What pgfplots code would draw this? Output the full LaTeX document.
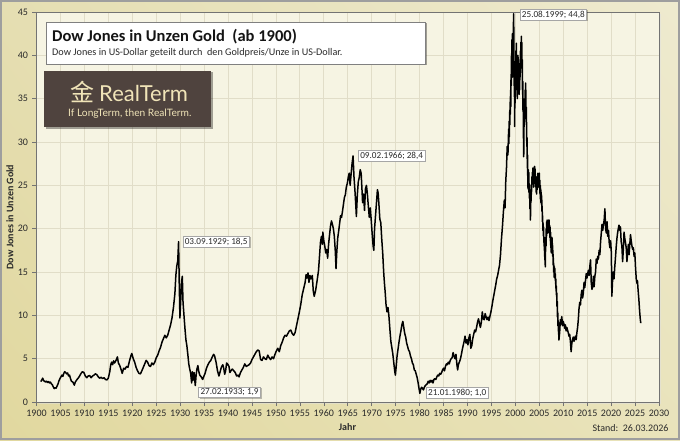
\documentclass[border=0pt]{standalone}
\usepackage{pgfplots}
\pgfplotsset{compat=1.18}
\usepackage{fontspec}
\setmainfont{Carlito}
\newfontfamily\cjk{Noto Sans CJK SC}
\newfontfamily\latofont{Lato}
\usetikzlibrary{shadows,shadings}
\definecolor{plotbg}{HTML}{F6F4E3}
\definecolor{gridc}{HTML}{E1DDC8}
\definecolor{logobg}{HTML}{4F433E}
\definecolor{logogold}{HTML}{F0E4B8}
\definecolor{ulc}{HTML}{E5DEB2}
\definecolor{urc}{HTML}{EEEACF}
\definecolor{llc}{HTML}{E1D89F}
\definecolor{lrc}{HTML}{E9E3BB}
\definecolor{txt}{HTML}{2A2A2A}
\pgfplotstableread{
x y
1900.9 2.35
1901.1 2.55
1901.3 2.75
1901.5 2.45
1901.7 2.4
1901.9 2.3
1902.1 2.4
1902.3 2.25
1902.5 2.35
1902.7 2.2
1902.9 2.3
1903.1 2.1
1903.3 2.0
1903.5 1.75
1903.7 1.55
1903.9 1.65
1904.1 1.6
1904.3 1.85
1904.5 2.1
1904.7 2.45
1904.9 2.7
1905.1 2.9
1905.3 3.1
1905.5 2.95
1905.7 3.3
1905.9 3.5
1906.1 3.4
1906.3 3.25
1906.5 3.35
1906.7 3.0
1906.9 3.1
1907.1 2.7
1907.3 2.4
1907.6 2.3
1907.9 1.95
1908.1 2.3
1908.4 2.55
1908.7 2.75
1909.0 3.0
1909.3 3.3
1909.6 3.5
1909.9 3.4
1910.2 3.0
1910.5 2.8
1910.8 3.0
1911.1 3.05
1911.4 2.8
1911.7 3.0
1912.0 3.1
1912.3 3.25
1912.6 3.15
1912.9 2.9
1913.2 2.75
1913.5 2.85
1913.8 2.7
1914.1 2.8
1914.4 2.6
1914.7 2.55
1915.0 2.75
1915.3 3.5
1915.5 4.3
1915.7 4.6
1915.9 4.3
1916.1 4.75
1916.3 4.5
1916.6 4.8
1916.9 5.2
1917.1 4.5
1917.4 4.2
1917.7 3.7
1917.9 3.3
1918.2 3.9
1918.5 3.8
1918.8 4.1
1919.1 4.0
1919.4 4.7
1919.7 5.3
1919.9 5.6
1920.2 5.0
1920.5 4.6
1920.8 4.0
1921.1 3.6
1921.4 3.3
1921.7 3.25
1922.0 3.6
1922.3 4.0
1922.6 4.4
1922.9 4.8
1923.2 4.6
1923.5 4.2
1923.8 4.1
1924.1 4.5
1924.4 4.3
1924.7 4.6
1925.0 5.1
1925.3 5.4
1925.6 5.9
1925.9 6.3
1926.2 6.9
1926.5 7.3
1926.8 7.7
1927.1 7.4
1927.4 7.7
1927.7 8.3
1928.0 8.9
1928.3 9.7
1928.6 10.9
1928.9 12.5
1929.1 14.6
1929.3 15.7
1929.5 16.3
1929.67 18.5
1929.8 14.0
1929.95 9.7
1930.1 11.5
1930.3 13.9
1930.45 14.5
1930.6 11.5
1930.8 10.0
1931.0 8.5
1931.2 7.2
1931.4 6.5
1931.6 5.5
1931.8 4.4
1932.0 3.8
1932.2 3.3
1932.4 2.2
1932.55 3.5
1932.7 2.5
1932.9 3.4
1933.16 1.9
1933.35 3.2
1933.5 3.8
1933.7 4.2
1933.9 3.5
1934.1 3.1
1934.4 2.9
1934.7 2.6
1934.9 2.9
1935.2 3.3
1935.5 3.9
1935.8 4.3
1936.1 4.6
1936.4 4.8
1936.7 5.2
1937.0 5.5
1937.2 5.3
1937.5 4.6
1937.8 3.6
1938.1 3.0
1938.3 3.4
1938.6 4.0
1938.9 4.3
1939.1 3.9
1939.3 3.2
1939.5 3.6
1939.7 4.5
1939.9 4.4
1940.2 4.1
1940.4 3.4
1940.6 3.6
1940.9 3.8
1941.2 3.6
1941.5 3.4
1941.8 3.0
1942.1 3.1
1942.3 2.9
1942.6 3.4
1942.9 3.7
1943.2 4.0
1943.5 4.4
1943.8 4.1
1944.1 4.2
1944.4 4.3
1944.7 4.5
1945.0 4.9
1945.3 5.2
1945.6 5.5
1945.9 5.8
1946.2 6.0
1946.5 5.9
1946.8 4.9
1947.1 4.8
1947.4 5.2
1947.7 5.0
1948.0 4.9
1948.3 5.4
1948.6 5.1
1948.9 4.9
1949.2 5.2
1949.5 5.0
1949.8 5.5
1950.1 5.9
1950.4 6.2
1950.7 5.8
1951.0 6.5
1951.3 6.9
1951.6 7.4
1951.9 7.7
1952.2 7.6
1952.5 7.9
1952.8 8.2
1953.1 8.3
1953.4 7.9
1953.7 7.7
1954.0 8.0
1954.3 8.8
1954.6 9.6
1954.9 10.4
1955.2 11.3
1955.5 12.4
1955.8 13.1
1956.1 13.8
1956.3 14.7
1956.5 14.3
1956.7 14.9
1956.9 13.8
1957.1 14.6
1957.3 14.2
1957.6 14.6
1957.8 12.8
1958.0 12.2
1958.3 12.9
1958.6 14.0
1958.9 15.2
1959.1 16.8
1959.3 18.4
1959.5 19.1
1959.7 18.2
1959.8 19.6
1960.0 18.6
1960.2 18.0
1960.4 17.2
1960.6 17.6
1960.8 16.6
1961.0 18.2
1961.2 19.3
1961.4 20.3
1961.6 20.9
1961.8 20.5
1962.0 20.0
1962.2 19.1
1962.4 17.4
1962.55 15.4
1962.7 17.2
1962.9 18.9
1963.1 19.7
1963.3 20.6
1963.5 21.5
1963.7 21.3
1963.9 22.0
1964.1 22.8
1964.3 23.6
1964.5 23.9
1964.7 24.8
1964.9 25.2
1965.1 25.9
1965.3 26.4
1965.5 25.0
1965.7 26.3
1965.9 27.5
1966.11 28.4
1966.3 26.0
1966.5 24.4
1966.7 22.5
1966.8 21.4
1967.0 23.9
1967.2 25.4
1967.4 25.9
1967.6 26.8
1967.8 26.4
1968.0 24.2
1968.1 23.0
1968.3 24.0
1968.5 22.1
1968.7 24.6
1968.9 25.0
1969.1 24.0
1969.3 22.6
1969.5 21.3
1969.7 22.4
1969.9 21.0
1970.1 19.4
1970.3 18.0
1970.45 17.5
1970.6 20.0
1970.8 21.5
1971.0 23.0
1971.2 24.5
1971.35 24.1
1971.5 22.9
1971.7 21.1
1971.9 20.7
1972.1 18.8
1972.3 17.2
1972.5 15.0
1972.65 13.8
1972.8 12.8
1973.0 11.2
1973.2 10.4
1973.4 10.9
1973.6 9.9
1973.8 8.4
1974.0 7.0
1974.2 6.3
1974.4 5.6
1974.6 4.6
1974.8 3.6
1974.95 3.1
1975.1 4.0
1975.3 5.3
1975.5 6.1
1975.7 6.9
1975.9 7.6
1976.1 8.2
1976.3 8.9
1976.5 9.3
1976.7 8.6
1976.9 7.9
1977.1 7.5
1977.3 6.8
1977.5 6.4
1977.7 6.0
1977.9 5.8
1978.1 5.3
1978.3 5.0
1978.5 4.5
1978.7 4.3
1978.9 3.7
1979.1 3.6
1979.3 3.2
1979.5 2.8
1979.7 2.2
1979.9 1.5
1980.06 1.0
1980.2 1.4
1980.4 1.7
1980.6 1.6
1980.8 1.4
1981.0 1.7
1981.2 1.9
1981.4 2.0
1981.6 2.1
1981.8 2.4
1982.0 2.2
1982.2 2.5
1982.4 2.3
1982.6 2.5
1982.8 2.2
1983.0 2.6
1983.2 2.7
1983.4 2.6
1983.6 2.9
1983.8 3.1
1984.0 3.0
1984.2 3.3
1984.4 3.2
1984.6 3.4
1984.8 3.7
1985.0 3.9
1985.2 3.6
1985.4 4.1
1985.6 4.4
1985.8 4.3
1986.0 4.6
1986.2 4.4
1986.4 4.8
1986.6 5.0
1986.8 5.1
1987.0 5.7
1987.2 5.3
1987.4 5.0
1987.6 5.5
1987.8 4.3
1987.95 3.7
1988.1 4.3
1988.3 4.6
1988.5 4.9
1988.7 5.4
1988.9 6.0
1989.1 6.5
1989.3 7.0
1989.5 7.6
1989.7 6.8
1989.9 7.2
1990.1 6.6
1990.3 7.4
1990.5 7.8
1990.7 6.2
1990.9 6.5
1991.1 7.3
1991.3 7.8
1991.5 8.3
1991.7 8.1
1991.9 8.6
1992.1 9.2
1992.3 9.6
1992.5 9.1
1992.7 8.6
1992.9 9.2
1993.1 10.4
1993.3 9.6
1993.5 9.5
1993.7 10.2
1993.9 9.8
1994.1 9.5
1994.3 9.8
1994.5 9.4
1994.7 9.9
1994.9 10.4
1995.1 11.0
1995.3 11.7
1995.5 12.3
1995.7 12.9
1995.9 13.5
1996.1 14.2
1996.3 14.6
1996.5 15.2
1996.7 15.8
1996.9 17.0
1997.1 18.8
1997.3 20.2
1997.5 21.9
1997.7 23.3
1997.85 22.4
1998.0 25.5
1998.15 27.0
1998.3 29.5
1998.45 28.5
1998.60 31.5
1998.65 29.8
1998.70 32.4
1998.75 30.6
1998.80 33.5
1998.85 32.0
1998.90 34.6
1998.95 33.2
1999.00 36.0
1999.05 34.1
1999.10 37.8
1999.15 36.5
1999.20 40.2
1999.25 38.0
1999.30 41.8
1999.35 39.0
1999.40 42.5
1999.45 37.5
1999.50 41.0
1999.55 39.5
1999.60 43.5
1999.65 44.8
1999.70 40.0
1999.75 36.5
1999.80 38.0
1999.85 31.8
1999.90 36.0
1999.95 34.5
2000.00 39.0
2000.05 37.0
2000.10 40.5
2000.15 38.0
2000.20 41.4
2000.25 39.0
2000.30 36.0
2000.35 38.5
2000.40 35.0
2000.45 39.5
2000.50 37.2
2000.55 40.0
2000.60 36.8
2000.65 39.5
2000.70 37.0
2000.75 38.8
2000.80 35.5
2000.85 37.5
2000.90 36.0
2000.95 39.0
2001.00 37.5
2001.05 40.5
2001.10 38.5
2001.15 41.5
2001.20 39.5
2001.25 42.2
2001.30 40.0
2001.35 41.5
2001.40 38.0
2001.45 39.5
2001.50 35.5
2001.55 37.0
2001.60 33.5
2001.65 35.0
2001.70 30.5
2001.75 28.3
2001.80 31.5
2001.85 33.5
2001.90 32.0
2001.95 35.0
2002.00 33.5
2002.05 36.0
2002.10 34.5
2002.15 36.8
2002.20 35.0
2002.25 33.0
2002.30 34.0
2002.35 31.0
2002.40 29.5
2002.45 30.5
2002.50 27.0
2002.55 28.5
2002.60 25.5
2002.65 24.6
2002.70 26.8
2002.75 25.0
2002.80 26.5
2002.85 24.2
2002.90 25.2
2002.95 23.5
2003.00 24.5
2003.05 22.3
2003.10 23.0
2003.15 21.0
2003.20 22.5
2003.25 24.0
2003.30 23.2
2003.35 25.0
2003.40 24.3
2003.45 26.0
2003.50 25.2
2003.55 26.5
2003.60 25.4
2003.65 27.0
2003.70 25.8
2003.75 26.2
2003.80 24.8
2003.85 25.8
2003.90 26.8
2003.95 25.6
2004.00 27.2
2004.05 26.0
2004.10 27.0
2004.15 25.2
2004.20 26.3
2004.25 24.8
2004.30 26.0
2004.35 24.2
2004.40 25.5
2004.45 24.0
2004.50 25.4
2004.55 24.5
2004.60 26.0
2004.65 25.0
2004.70 26.4
2004.75 25.2
2004.80 26.0
2004.85 24.8
2004.90 26.2
2004.95 25.0
2005.00 26.4
2005.05 24.6
2005.10 25.6
2005.15 24.0
2005.20 25.0
2005.25 23.4
2005.30 24.6
2005.35 23.0
2005.40 24.2
2005.45 22.8
2005.50 23.8
2005.55 22.0
2005.60 22.6
2005.65 20.8
2005.70 21.5
2005.75 19.8
2005.80 20.6
2005.85 19.2
2005.90 20.2
2005.95 18.4
2006.00 19.0
2006.05 17.5
2006.10 18.2
2006.15 16.4
2006.20 17.2
2006.25 15.6
2006.30 17.5
2006.35 19.0
2006.40 18.0
2006.45 20.0
2006.50 19.0
2006.55 20.8
2006.60 19.6
2006.65 21.0
2006.70 19.8
2006.75 20.6
2006.80 19.5
2006.85 20.8
2006.90 20.0
2006.95 21.0
2007.00 20.2
2007.05 21.0
2007.10 19.6
2007.15 20.4
2007.20 19.0
2007.25 20.2
2007.30 18.6
2007.35 19.6
2007.40 17.8
2007.45 18.8
2007.50 17.2
2007.55 18.6
2007.60 17.6
2007.65 19.0
2007.70 17.8
2007.75 18.3
2007.80 16.8
2007.85 17.5
2007.90 15.8
2007.95 16.6
2008.00 15.0
2008.05 15.8
2008.10 14.4
2008.15 15.6
2008.20 14.6
2008.25 15.4
2008.30 14.2
2008.35 14.8
2008.40 13.6
2008.45 14.2
2008.50 12.8
2008.55 13.4
2008.60 12.2
2008.65 12.6
2008.70 11.0
2008.75 11.6
2008.80 9.8
2008.85 10.4
2008.90 8.8
2008.95 9.4
2009.00 8.2
2009.05 8.0
2009.10 7.15
2009.25 8.0
2009.4 9.5
2009.55 9.0
2009.7 9.85
2009.85 8.8
2010.0 9.3
2010.15 9.0
2010.3 8.5
2010.45 8.9
2010.6 8.2
2010.75 8.6
2010.9 8.3
2011.05 8.0
2011.2 7.6
2011.35 7.8
2011.5 7.0
2011.65 5.8
2011.8 6.8
2011.95 7.2
2012.1 7.5
2012.25 7.0
2012.4 7.3
2012.55 7.6
2012.7 7.2
2012.85 8.0
2013.0 8.6
2013.15 9.5
2013.3 10.8
2013.45 11.5
2013.6 11.2
2013.75 12.4
2013.9 12.9
2014.05 12.0
2014.2 12.6
2014.35 13.8
2014.5 13.2
2014.65 14.0
2014.8 14.8
2014.95 14.3
2015.1 14.8
2015.25 15.2
2015.4 14.6
2015.55 15.6
2015.7 16.4
2015.85 13.8
2016.0 13.0
2016.15 13.3
2016.3 14.5
2016.45 13.3
2016.6 14.5
2016.75 15.0
2016.9 16.5
2017.05 16.0
2017.2 16.8
2017.35 16.5
2017.5 17.5
2017.65 17.0
2017.8 18.5
2017.95 19.5
2018.1 20.5
2018.25 19.8
2018.4 20.5
2018.55 21.0
2018.7 22.3
2018.85 20.0
2019.0 19.5
2019.15 20.8
2019.3 19.1
2019.45 19.8
2019.6 18.4
2019.75 17.8
2019.9 18.6
2020.05 17.2
2020.15 12.2
2020.3 14.0
2020.45 15.0
2020.6 14.2
2020.75 15.5
2020.9 16.6
2021.05 17.8
2021.2 18.8
2021.35 19.5
2021.5 20.0
2021.65 20.4
2021.8 19.8
2021.95 20.2
2022.1 18.5
2022.25 18.0
2022.4 16.2
2022.55 17.6
2022.7 19.6
2022.85 18.9
2023.0 18.4
2023.15 17.8
2023.3 16.2
2023.45 17.2
2023.6 18.2
2023.75 17.0
2023.9 18.2
2024.05 19.3
2024.2 18.6
2024.35 18.0
2024.5 17.6
2024.65 17.8
2024.8 16.8
2024.95 17.2
2025.1 15.5
2025.25 14.2
2025.4 13.7
2025.5 14.0
2025.65 12.8
2025.8 11.8
2025.95 10.5
2026.1 9.5
2026.2 9.1
}\dowgold
\begin{document}
\begin{tikzpicture}
\path[use as bounding box] (-36.5pt,-38pt) rectangle (643.5pt,402pt);
\shade[upper left=ulc, upper right=urc, lower left=llc, lower right=lrc] (-36.5pt,-38pt) rectangle (643.5pt,402pt);
\draw[draw=black!38, line width=1.5pt] (-35.5pt,-37pt) rectangle (642.5pt,401pt);
\fill[black!12, opacity=0.5] (2pt,-2pt) rectangle (624.5pt,388pt);
\begin{axis}[
  scale only axis, width=622.5pt, height=390pt,
  at={(0pt,0pt)}, anchor=south west,
  xmin=1900, xmax=2030, ymin=0, ymax=45,
  xtick={1900,1905,...,2030}, ytick={0,5,...,45},
  xtick pos=left, ytick pos=left,
  tick align=outside, major tick length=4pt,
  tick style={black!55, line width=0.6pt},
  axis background/.style={fill=plotbg},
  grid=major, major grid style={gridc, line width=0.8pt},
  axis line style={black!55, line width=0.8pt},
  /pgf/number format/1000 sep={},
  /pgf/number format/assume math mode=true,
  ticklabel style={font=\fontsize{10}{11}\selectfont, text=txt},
  xticklabel style={yshift=-0.5pt},
  yticklabel style={xshift=-1pt},
]
\addplot[black, line width=1.5pt, line join=round] table[x=x,y=y] {\dowgold};
\coordinate (a1929) at (axis cs:1929.67,18.5);
\coordinate (a1933) at (axis cs:1933.16,1.9);
\coordinate (a1966) at (axis cs:1966.11,28.4);
\coordinate (a1980) at (axis cs:1980.06,1.0);
\coordinate (a1999) at (axis cs:1999.65,44.8);
\end{axis}
\tikzset{ann/.style={fill=white, draw=black!35, line width=0.5pt, inner xsep=2pt, inner ysep=1.6pt, font=\fontsize{9.2}{10}\selectfont, text=txt, drop shadow={shadow xshift=1pt, shadow yshift=-1pt, opacity=0.25, fill=black}}}
\node[ann, anchor=west] at ([xshift=4pt]a1929) {03.09.1929; 18,5};
\node[ann, anchor=north west] at ([xshift=3pt,yshift=-1.5pt]a1933) {27.02.1933; 1,9};
\node[ann, anchor=west] at ([xshift=5pt]a1966) {09.02.1966; 28,4};
\node[ann, anchor=west] at ([xshift=6pt,yshift=0.5pt]a1980) {21.01.1980; 1,0};
\node[ann, anchor=west] at ([xshift=6pt,yshift=-1pt]a1999) {25.08.1999; 44,8};
% title box
\draw[fill=white, draw=black!50, line width=0.7pt, drop shadow={shadow xshift=1.5pt, shadow yshift=-1.5pt, opacity=0.35, fill=black}] (9.5pt,338pt) rectangle (388.5pt,380pt);
\node[anchor=base west, inner sep=0pt, text=black!92] at (15.5pt,360pt) {\fontsize{16.5}{18}\selectfont\bfseries Dow Jones in Unzen Gold\ \ (ab 1900)};
\node[anchor=base west, inner sep=0pt, text=txt] at (15.5pt,346pt) {\fontsize{10.2}{11}\selectfont Dow Jones in US-Dollar geteilt durch\ \ den Goldpreis/Unze in US-Dollar.};
% logo
\fill[logobg, drop shadow={shadow xshift=1.5pt, shadow yshift=-1.5pt, opacity=0.35, fill=black}] (7.5pt,275pt) rectangle (174.5pt,331pt);
\node[inner sep=0pt, text=logogold] at (45.5pt,310pt) {\cjk\fontsize{24}{26}\selectfont 金};
\node[anchor=base west, inner sep=0pt, text=logogold] at (62.5pt,301pt) {\latofont\fontsize{22}{24}\selectfont RealTerm};
\node[anchor=base west, inner sep=0pt, text=logogold] at (31.5pt,286pt) {\latofont\fontsize{10.2}{11}\selectfont If LongTerm, then RealTerm.};
% labels
\node[rotate=90, text=txt] at (-26.5pt,185pt) {\fontsize{10}{11}\selectfont\bfseries Dow Jones in Unzen Gold};
\node[text=txt] at (311pt,-25pt) {\fontsize{10}{11}\selectfont\bfseries Jahr};
\node[anchor=east, text=txt] at (635.5pt,-26pt) {\fontsize{10}{11}\selectfont Stand:\ \ 26.03.2026};
\end{tikzpicture}
\end{document}
